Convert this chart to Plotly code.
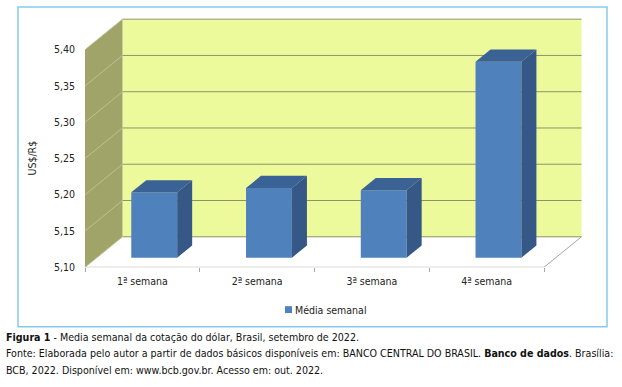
import plotly.graph_objects as go

# ---- data ----
categories = ["1ª semana", "2ª semana", "3ª semana", "4ª semana"]
media_semanal = [5.190, 5.196, 5.193, 5.370]
y_ticks = [5.10, 5.15, 5.20, 5.25, 5.30, 5.35, 5.40]
series_name = "Média semanal"

W, H = 622, 387
FONT = "DejaVu Sans Condensed, DejaVu Sans, sans-serif"

def px_x(p):
    return p / W

def px_y(p):
    return 1 - p / H

# front-plane pixel mapping
X0_PX, CAT_PX = 85.0, 114.75        # px of x=0, px per category
Y_BASE_PX, VAL_PX = 271.5, 736.7    # px of 5.10, px per value unit
DEPTH_DX_PX, DEPTH_DY_PX = 37.5, 31.0
DX = DEPTH_DX_PX / CAT_PX           # depth offset in x units
DY = DEPTH_DY_PX / VAL_PX           # depth offset in value units
ymin, ymax = y_ticks[0], y_ticks[-1]
ncat = len(categories)

x_dom_px = (X0_PX, 600.0)
y_dom_px = (15.0, Y_BASE_PX)
x_range = [0, (x_dom_px[1] - X0_PX) / CAT_PX]
y_range = [ymin, ymin + (Y_BASE_PX - y_dom_px[0]) / VAL_PX]

# bar geometry (depth position)
F = 0.316      # front of bar depth fraction
BD = 0.40      # bar depth fraction
BW = 0.40      # bar width in category units

blue_front = "#4F81BD"
blue_side = "#355886"
blue_top = "#3B6294"

fig = go.Figure()

# front faces as real bars
xs_front = [i + 0.5 + F * DX for i in range(ncat)]
fig.add_trace(go.Bar(
    x=xs_front, y=[v - ymin for v in media_semanal], base=ymin + F * DY,
    width=BW, marker=dict(color=blue_front, line=dict(width=0)),
    name=series_name, showlegend=False, hoverinfo="skip"))

# side and top faces
sx, sy, tx, ty = [], [], [], []
for i, v in enumerate(media_semanal):
    xl = i + 0.5 + F * DX - BW / 2
    xr = xl + BW
    yb = ymin + F * DY
    yt = v + F * DY
    ox, oy = BD * DX, BD * DY
    sx += [xr, xr + ox, xr + ox, xr, xr, None]
    sy += [yb, yb + oy, yt + oy, yt, yb, None]
    tx += [xl, xr, xr + ox, xl + ox, xl, None]
    ty += [yt, yt, yt + oy, yt + oy, yt, None]
fig.add_trace(go.Scatter(x=sx, y=sy, fill="toself", fillcolor=blue_side,
                         mode="lines", line=dict(width=0, color=blue_side),
                         showlegend=False, hoverinfo="skip"))
fig.add_trace(go.Scatter(x=tx, y=ty, fill="toself", fillcolor=blue_top,
                         mode="lines", line=dict(width=0, color=blue_top),
                         showlegend=False, hoverinfo="skip"))

shapes = []
# back wall
shapes.append(dict(type="rect", xref="x", yref="y", layer="below",
                   x0=DX, x1=ncat + DX, y0=ymin + DY, y1=ymax + DY,
                   fillcolor="#ECFA9C", line=dict(width=0)))
# side wall
shapes.append(dict(type="path", xref="x", yref="y", layer="below",
                   path=f"M0,{ymin} L{DX},{ymin+DY} L{DX},{ymax+DY} L0,{ymax} Z",
                   fillcolor="#A1A468", line=dict(width=0)))
# gridlines (back + side wall)
for t in y_ticks:
    shapes.append(dict(type="line", xref="x", yref="y", layer="below",
                       x0=DX, x1=ncat + DX, y0=t + DY, y1=t + DY,
                       line=dict(color="#8F9468", width=1)))
    shapes.append(dict(type="line", xref="x", yref="y", layer="below",
                       x0=0, x1=DX, y0=t, y1=t + DY,
                       line=dict(color="#BDC190", width=1)))
# floor edges
shapes.append(dict(type="path", xref="x", yref="y", layer="below",
                   path=f"M0,{ymin} L{ncat},{ymin} L{ncat+DX},{ymin+DY}",
                   line=dict(color="#A6A6A6", width=1)))
# outer chart box
shapes.append(dict(type="rect", xref="paper", yref="paper",
                   x0=px_x(18), x1=px_x(607), y0=px_y(332), y1=px_y(7),
                   line=dict(color="#86CBEA", width=1.5)))
# legend swatch
shapes.append(dict(type="rect", xref="paper", yref="paper",
                   x0=px_x(285), x1=px_x(292), y0=px_y(318), y1=px_y(311),
                   fillcolor=blue_front, line=dict(width=0)))

cap_font = dict(size=10.6, color="#111", family=FONT)
annotations = [
    dict(text="US$/R$", textangle=-90, x=px_x(32), y=px_y(161),
         xref="paper", yref="paper", showarrow=False,
         xanchor="center", yanchor="middle",
         font=dict(size=10.5, color="#222", family=FONT)),
    dict(text=series_name, x=px_x(293), y=px_y(314.5),
         xref="paper", yref="paper", showarrow=False,
         xanchor="left", yanchor="middle",
         font=dict(size=10.5, color="#222", family=FONT)),
    dict(text="<b>Figura 1</b> - Media semanal da cotação do dólar, Brasil, setembro de 2022.",
         x=px_x(4), y=px_y(342), xref="paper", yref="paper", xanchor="left",
         yanchor="middle", showarrow=False, font=cap_font),
    dict(text="Fonte: Elaborada pelo autor a partir de dados básicos disponíveis em: "
              "BANCO CENTRAL DO BRASIL. <b>Banco de dados</b>. Brasília:",
         x=px_x(4), y=px_y(359), xref="paper", yref="paper", xanchor="left",
         yanchor="middle", showarrow=False, font=cap_font),
    dict(text="BCB, 2022. Disponível em: www.bcb.gov.br. Acesso em: out. 2022.",
         x=px_x(4), y=px_y(376), xref="paper", yref="paper", xanchor="left",
         yanchor="middle", showarrow=False, font=cap_font),
]

fig.update_layout(
    width=W, height=H, autosize=False, margin=dict(l=0, r=0, t=0, b=0),
    paper_bgcolor="white", plot_bgcolor="rgba(0,0,0,0)",
    separators=",.",
    font=dict(family=FONT, size=10.5, color="#222"),
    shapes=shapes, annotations=annotations,
    barmode="overlay",
    showlegend=False,
    xaxis=dict(domain=[px_x(x_dom_px[0]), px_x(x_dom_px[1])], range=x_range,
               tickvals=[i + 0.5 for i in range(ncat)], ticktext=categories,
               ticks="", showgrid=False, zeroline=False, showline=False,
               ticklabelstandoff=6,
               minor=dict(tick0=0, dtick=1, ticks="outside", ticklen=4,
                          tickcolor="#A6A6A6", showgrid=False),
               tickfont=dict(size=10.5, family=FONT, color="#222")),
    yaxis=dict(domain=[px_y(y_dom_px[1]), px_y(y_dom_px[0])], range=y_range,
               tickvals=y_ticks, tickformat=".2f", ticks="", showgrid=False,
               zeroline=False, showline=False, ticklabelstandoff=9,
               tickfont=dict(size=10.5, family=FONT, color="#222")),
)

fig.write_html("out.html", config={"responsive": False})
